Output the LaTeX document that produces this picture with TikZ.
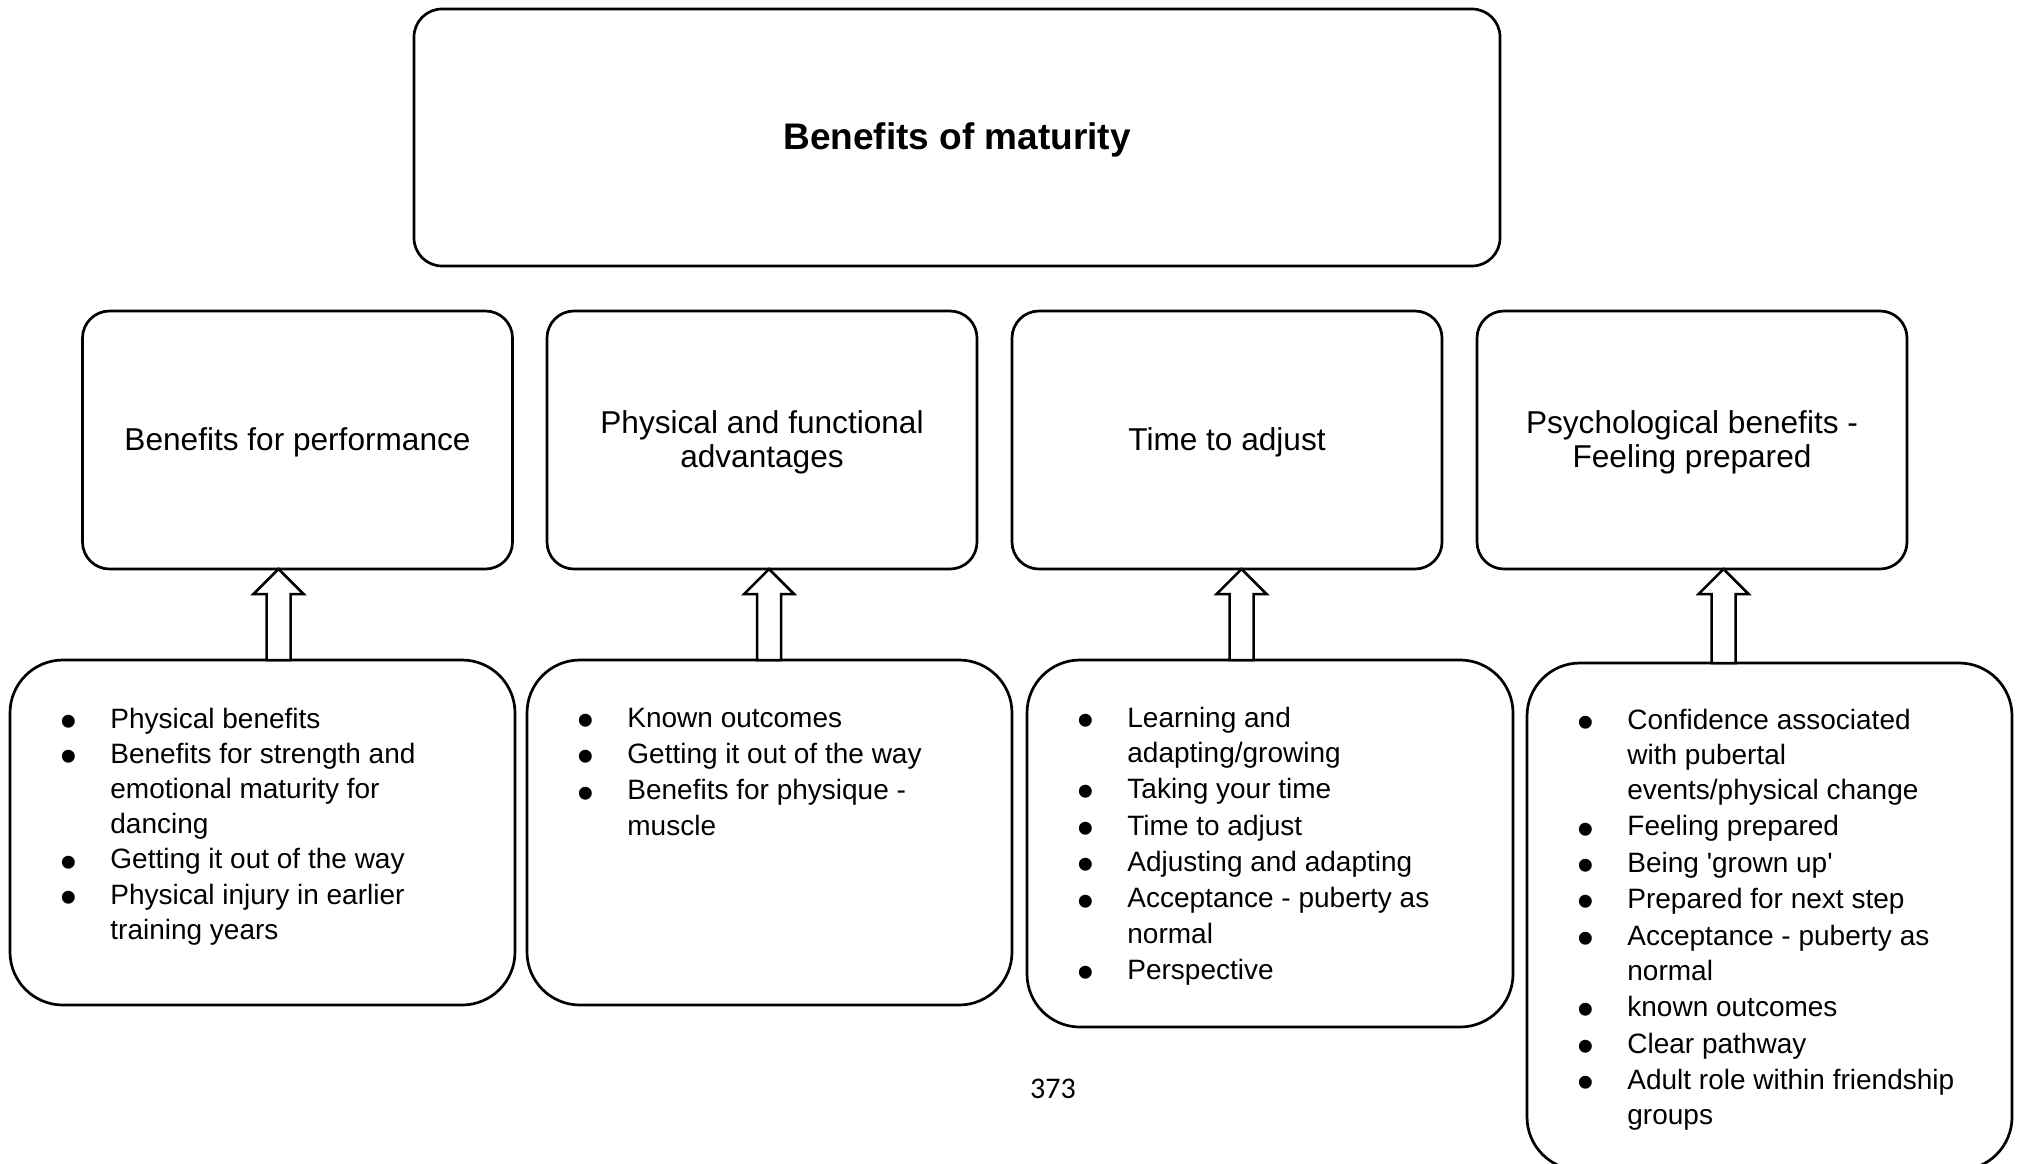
\documentclass[tikz,border=0pt]{standalone}
\usepackage{fontspec}
\setmainfont{Liberation Sans}
\newfontfamily\pagefont{Carlito}
\usetikzlibrary{calc}

% enlarged list bullet and a fixed-width bullet column
\newcommand{\bigbul}{\raisebox{-4.6pt}{\scalebox{1.7}{\textbullet}}}
\newcommand{\itm}{\makebox[42pt]{\bigbul}}

% hollow block arrow from a base point up to a tip point
\newcommand{\uparrowbox}[2]{%
  \draw[blockarrow] ($(#1)+(-12,0)$) -- ($(#2)+(-12,25)$) -- ($(#2)+(-25,25)$)
    -- (#2) -- ($(#2)+(25,25)$) -- ($(#2)+(12,25)$) -- ($(#1)+(12,0)$) -- cycle;}

\begin{document}
\begin{tikzpicture}[x=0.5pt,y=-0.5pt,
  roundbox/.style={draw=black, line width=1.35pt, fill=white, inner sep=0pt,
    outer sep=0pt},
  topbox/.style={roundbox, rounded corners=14pt, minimum width=543pt,
    minimum height=128.5pt},
  midbox/.style={roundbox, rounded corners=13.5pt, minimum width=215pt,
    minimum height=129pt},
  listbox/.style={roundbox, rounded corners=26.5pt, minimum height=172.5pt},
  toptext/.style={inner sep=0pt, align=center,
    font=\fontsize{18.5pt}{22pt}\selectfont\bfseries},
  midtext/.style={inner sep=0pt, align=center,
    font=\fontsize{15.8pt}{17pt}\selectfont},
  listtext/.style={inner sep=0pt, anchor=base west,
    font=\fontsize{14pt}{17.6pt}\selectfont},
  blockarrow/.style={draw=black, line width=1.25pt, fill=white, line join=miter},
  pagenum/.style={inner sep=0pt, anchor=base,
    font=\pagefont\fontsize{15pt}{18pt}\selectfont}]

\useasboundingbox[fill=white] (0,0) rectangle (2017,1163);

% heading
\node[topbox] (top) at (957,137.5) {};
\node[toptext] (topt) at ($(top)+(0,2)$) {Benefits of maturity};

% theme boxes
\node[midbox] (m1) at (297.5,440) {};
\node[midbox] (m2) at (762,440) {};
\node[midbox] (m3) at (1227,440) {};
\node[midbox] (m4) at (1692,440) {};
\node[midtext] (m1t) at ($(m1)+(0,2.5)$) {Benefits for performance};
\node[midtext] (m2t) at ($(m2)+(0,2.5)$) {Physical and functional\\advantages};
\node[midtext] (m3t) at ($(m3)+(0,2.5)$) {Time to adjust};
\node[midtext] (m4t) at ($(m4)+(0,2.5)$) {Psychological benefits -\\Feeling prepared};

% sub-theme boxes
\node[listbox, minimum width=252.5pt] (b1) at (262.5,832.5) {};
\node[listbox, minimum width=242.5pt] (b2) at (769.5,832.5) {};
\node[listbox, minimum width=243pt, minimum height=183.5pt] (b3) at (1270,843.5) {};
\node[listbox, minimum width=242.5pt, minimum height=253.5pt] (b4) at (1769.5,916.5) {};

\node[listtext] (b1t) at ($(b1.north west)+(16,68)$) {%
\begin{tabular}[t]{@{}l@{}l@{}}
\itm & Physical benefits\\
\itm & Benefits for strength and\\
     & emotional maturity for\\
     & dancing\\
\itm & Getting it out of the way\\
\itm & Physical injury in earlier\\
     & training years
\end{tabular}};

\node[listtext] (b2t) at ($(b2.north west)+(16,67)$) {%
\begin{tabular}[t]{@{}l@{}l@{}}
\itm & Known outcomes\\[0.6pt]
\itm & Getting it out of the way\\[0.6pt]
\itm & Benefits for physique -\\
     & muscle
\end{tabular}};

\node[listtext] (b3t) at ($(b3.north west)+(16,67)$) {%
\begin{tabular}[t]{@{}l@{}l@{}}
\itm & Learning and\\
     & adapting/growing\\[0.6pt]
\itm & Taking your time\\[0.6pt]
\itm & Time to adjust\\[0.6pt]
\itm & Adjusting and adapting\\[0.6pt]
\itm & Acceptance - puberty as\\
     & normal\\[0.6pt]
\itm & Perspective
\end{tabular}};

\node[listtext] (b4t) at ($(b4.north west)+(16,66)$) {%
\begin{tabular}[t]{@{}l@{}l@{}}
\itm & Confidence associated\\
     & with pubertal\\
     & events/physical change\\[0.6pt]
\itm & Feeling prepared\\[0.6pt]
\itm & Being \textquotesingle grown up\textquotesingle\\[0.6pt]
\itm & Prepared for next step\\[0.6pt]
\itm & Acceptance - puberty as\\
     & normal\\[0.6pt]
\itm & known outcomes\\[0.6pt]
\itm & Clear pathway\\[0.6pt]
\itm & Adult role within friendship\\
     & groups
\end{tabular}};

% block arrows from each list up to its theme
\coordinate (a1t) at (278.5,0 |- m1.south);
\coordinate (a1b) at (278.5,0 |- b1.north);
\coordinate (a2t) at (769,0 |- m2.south);
\coordinate (a2b) at (769,0 |- b2.north);
\coordinate (a3t) at (1241.5,0 |- m3.south);
\coordinate (a3b) at (1241.5,0 |- b3.north);
\coordinate (a4t) at (1723.5,0 |- m4.south);
\coordinate (a4b) at (1723.5,0 |- b4.north);
\uparrowbox{a1b}{a1t}
\uparrowbox{a2b}{a2t}
\uparrowbox{a3b}{a3t}
\uparrowbox{a4b}{a4t}

% page number
\node[pagenum] (pg) at (1053,1098) {373};
\end{tikzpicture}
\end{document}
